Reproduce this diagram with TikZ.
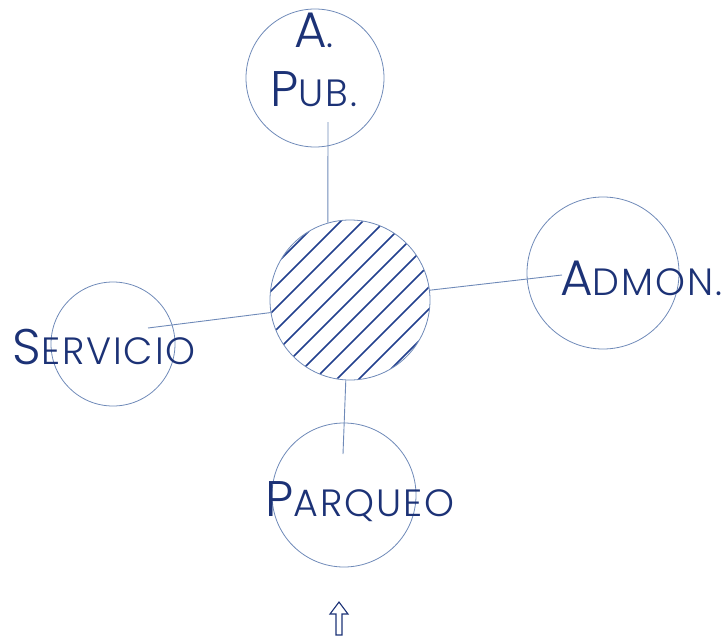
\documentclass[tikz,border=0pt]{standalone}
\usepackage{fontspec}
\setmainfont{Poppins}[UprightFont=* Light]
\usetikzlibrary{calc}
\definecolor{navy}{HTML}{1C3276}
\definecolor{hatchblue}{HTML}{22408E}
\definecolor{ringblue}{HTML}{6F8AB8}

% big first letter, small caps for the rest
\newcommand{\scw}[2]{{\addfontfeature{LetterSpace=5}%
  {\fontsize{50}{50}\selectfont #1}{\fontsize{38}{38}\selectfont #2}}}

\tikzset{
  ring/.style={circle, draw=ringblue, line width=0.8pt, inner sep=0pt},
  link/.style={ringblue, line width=0.9pt},
  word/.style={text=navy, anchor=base, inner sep=0pt},
  hatch/.style={hatchblue, line width=1.6pt}
}

\begin{document}
\begin{tikzpicture}[x=1pt, y=-1pt]

% Frame
\useasboundingbox (0,0) rectangle (723,640);

% --- Circles ---
\node[ring, minimum size=138pt] (pub) at (315,78) {};
\node[ring, minimum size=160pt] (hub) at (350,300) {};
\node[ring, minimum size=152pt] (adm) at (603,273) {};
\node[ring, minimum size=124pt] (ser) at (113,344) {};
\node[ring, minimum size=144pt] (par) at (344,495) {};

% Hatching of the hub
\begin{scope}
  \clip (350,300) circle (79.5);
  \foreach \k in {-8,...,8}
    \draw[hatch] ($(350,300)+(\k*22,0)+(-110,110)$) -- ++(220,-220);
\end{scope}

% --- Free ends of the links ---
\coordinate (pubEnd) at (328,122);
\coordinate (admEnd) at (562,275);
\coordinate (serEnd) at (148,328);
\coordinate (parEnd) at (343,454);

% --- Links ---
\draw[link] (pubEnd) -- (hub.106);
\draw[link] (hub.7) -- (admEnd);
\draw[link] (hub.189) -- (serEnd);
\draw[link] (hub.267) -- (parEnd);

% --- Labels ---
\node[word] (pubA) at (314,47) {\scw{A}{.}};
\node[word] (pubB) at (314,106) {\scw{P}{UB.}};
\node[word] (admT) at (641,295) {\scw{A}{DMON.}};
\node[word] (serT) at (104,364) {\scw{S}{ERVICIO}};
\node[word] (parT) at (360,516) {\scw{P}{ARQUEO}};

% Entrance arrow
\draw[navy, line width=1.1pt, line join=miter]
  (339,602) -- (348,614) -- (342,614) -- (342,635) -- (336,635)
  -- (336,614) -- (330,614) -- cycle;

\end{tikzpicture}
\end{document}
